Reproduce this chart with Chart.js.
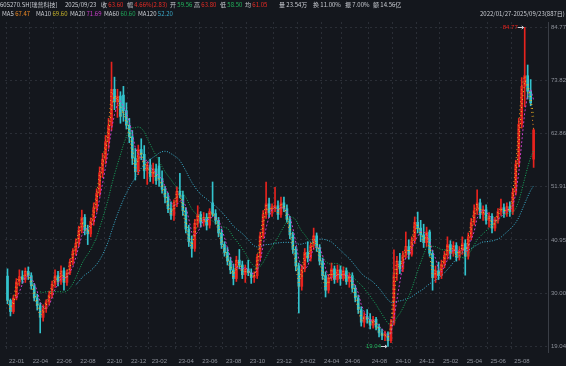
<!DOCTYPE html>
<html>
<head>
<meta charset="utf-8">
<script src="https://cdn.jsdelivr.net/npm/chart.js@4.4.1/dist/chart.umd.min.js"></script>
<style>
  body { margin: 0; background: #14171d; }
  #wrap { position: relative; width: 566px; height: 366px; overflow: hidden; }
  #kline { position: absolute; left: 0; top: 0; }
  .hd { position: absolute; font: 6px "Noto Sans CJK SC", "Liberation Sans", sans-serif; white-space: nowrap; color: #c9ccd2; line-height: 7px; }
  .r { color: #ec2b24; } .g { color: #22b45c; }
</style>
</head>
<body>
<div id="wrap">
  <canvas id="kline" width="566" height="366"></canvas>
  <!-- quote line -->
  <div class="hd" style="left:0;top:1px">605270.SH[瑞普科技]</div>
  <div class="hd" style="left:65px;top:1px">2025/09/23</div>
  <div class="hd" style="left:101px;top:1px">收 <span class="r">63.60</span></div>
  <div class="hd" style="left:127px;top:1px">幅 <span class="r">4.66%(2.83)</span></div>
  <div class="hd" style="left:170px;top:1px">开 <span class="g">59.56</span></div>
  <div class="hd" style="left:194px;top:1px">高 <span class="r">63.80</span></div>
  <div class="hd" style="left:220px;top:1px">低 <span class="g">58.50</span></div>
  <div class="hd" style="left:245px;top:1px">均 <span class="r">61.05</span></div>
  <div class="hd" style="left:279px;top:1px">量 23.54万</div>
  <div class="hd" style="left:313px;top:1px">换 11.00%</div>
  <div class="hd" style="left:345px;top:1px">振 7.00%</div>
  <div class="hd" style="left:373px;top:1px">额 14.56亿</div>
  <!-- MA legend line -->
  <div class="hd" style="left:2px;top:10px">MA5 <span style="color:#f08a24">67.47</span></div>
  <div class="hd" style="left:36px;top:10px">MA10 <span style="color:#c9b62a">69.60</span></div>
  <div class="hd" style="left:70px;top:10px">MA20 <span style="color:#cc3fcc">71.69</span></div>
  <div class="hd" style="left:104px;top:10px">MA60 <span style="color:#1fa85a">60.60</span></div>
  <div class="hd" style="left:138px;top:10px">MA120 <span style="color:#3aa8c8">52.20</span></div>
  <div class="hd" style="left:480px;top:10px">2022/01/27-2025/09/23(887日) ▼</div>
</div>
<script>
// one candle ~ one week (5 sessions), 2022/01/27 .. 2025/09/23
const opens = [
  33.5, 28.5, 26.2, 29.0, 32.3, 33.4, 32.8, 34.5, 33.6, 31.5,
  29.0, 27.4, 25.0, 26.8, 28.2, 29.6, 31.8, 33.6, 32.4, 34.6,
  32.2, 34.2, 36.4, 38.6, 40.3, 43.0, 45.6, 43.0, 42.2, 44.8,
  47.6, 50.6, 54.8, 57.6, 61.2, 64.5, 72.0, 69.4, 70.6, 70.8,
  67.6, 64.6, 62.2, 57.8, 55.0, 59.6, 58.6, 55.2, 56.4, 54.0,
  55.6, 56.2, 53.6, 51.4, 49.8, 47.4, 46.0, 48.6, 51.0, 50.2,
  47.0, 43.2, 40.6, 39.2, 44.4, 46.2, 44.6, 45.6, 44.0, 48.6,
  46.4, 45.0, 42.4, 40.0, 38.4, 36.6, 34.8, 33.0, 36.8, 35.8,
  33.8, 35.0, 34.2, 33.2, 33.6, 37.4, 41.8, 46.2, 48.4, 46.6,
  47.8, 48.0, 46.2, 48.6, 47.4, 45.2, 42.0, 39.0, 35.6, 31.4,
  35.0, 38.4, 37.2, 39.8, 41.8, 39.4, 36.6, 33.6, 30.6, 33.2,
  35.0, 32.8, 34.8, 33.0, 34.6, 32.4, 33.6, 31.0, 29.0, 26.6,
  24.0, 25.2, 24.6, 23.4, 24.6, 23.0, 21.8, 21.2, 21.6, 20.2,
  23.8, 33.8, 36.6, 35.0, 37.8, 39.6, 38.0, 40.8, 44.6, 43.4,
  42.0, 40.4, 42.6, 38.2, 33.2, 34.6, 33.6, 36.0, 37.8, 40.0,
  38.2, 39.8, 37.4, 38.8, 40.2, 37.6, 41.6, 44.6, 47.0, 48.6,
  46.2, 47.2, 45.0, 45.8, 43.4, 45.0, 46.8, 47.6, 46.4, 47.8,
  46.8, 50.8, 56.6, 64.8, 72.6, 74.8, 71.6, 57.6
];
const highs = [
  35.0, 28.8, 29.5, 33.0, 34.8, 34.6, 35.2, 35.4, 34.2, 32.0,
  29.8, 28.0, 27.6, 28.6, 30.4, 32.5, 34.8, 34.5, 35.6, 35.2,
  34.8, 37.0, 39.2, 41.2, 43.8, 47.1, 46.2, 44.0, 45.5, 48.6,
  51.5, 56.0, 58.8, 62.5, 66.0, 77.6, 74.5, 72.0, 71.5, 72.6,
  69.2, 66.0, 63.5, 59.8, 60.5, 61.8, 60.4, 57.0, 57.6, 56.8,
  56.6, 58.0, 55.2, 52.0, 50.6, 48.8, 49.2, 51.9, 54.7, 51.0,
  47.6, 44.0, 41.8, 45.2, 48.0, 46.8, 46.6, 46.4, 47.4, 52.9,
  47.2, 45.6, 43.2, 40.6, 39.4, 37.4, 36.0, 37.6, 39.0, 36.6,
  35.8, 36.8, 35.0, 34.4, 38.0, 42.6, 47.0, 52.9, 49.6, 48.4,
  51.8, 49.0, 49.8, 49.8, 48.2, 45.8, 42.6, 39.6, 36.2, 35.8,
  39.2, 40.6, 40.4, 43.4, 42.4, 40.0, 37.2, 34.4, 33.8, 36.2,
  35.6, 35.8, 35.6, 35.4, 35.2, 34.2, 34.2, 31.6, 29.6, 27.2,
  26.0, 26.6, 25.8, 25.2, 25.0, 23.6, 22.6, 22.2, 22.0, 24.6,
  38.9, 37.6, 38.2, 38.6, 42.6, 41.0, 41.6, 45.7, 46.7, 45.0,
  44.2, 43.6, 43.0, 38.8, 35.6, 36.4, 36.8, 38.6, 41.6, 40.8,
  40.6, 40.4, 39.6, 41.6, 41.0, 42.4, 45.4, 48.2, 51.3, 49.4,
  48.0, 48.2, 46.6, 46.4, 45.6, 47.4, 49.4, 48.4, 48.6, 48.8,
  51.6, 57.4, 66.0, 74.4, 84.77, 77.0, 74.0, 63.8
];
const lows = [
  27.8, 25.3, 25.8, 28.6, 31.5, 32.0, 32.2, 32.8, 30.8, 28.4,
  26.5, 21.8, 24.2, 26.0, 27.6, 29.0, 31.2, 31.5, 31.8, 30.6,
  31.6, 33.8, 35.8, 37.8, 39.6, 42.4, 42.0, 40.0, 41.6, 44.0,
  46.8, 50.0, 53.8, 56.6, 59.8, 63.5, 67.8, 66.2, 65.0, 65.4,
  63.8, 61.0, 56.5, 53.3, 54.4, 57.5, 53.6, 52.4, 53.0, 52.6,
  52.4, 52.0, 50.6, 48.6, 46.6, 45.2, 45.0, 47.8, 49.6, 46.0,
  42.4, 39.6, 37.4, 38.6, 43.6, 43.6, 43.8, 43.0, 43.4, 45.8,
  44.2, 41.6, 39.2, 37.6, 35.8, 34.0, 31.7, 32.4, 35.0, 33.0,
  32.2, 33.6, 32.0, 32.2, 33.0, 36.8, 41.2, 45.4, 45.6, 45.8,
  46.8, 45.2, 45.6, 46.8, 44.6, 41.2, 38.2, 34.6, 25.9, 30.6,
  34.4, 36.4, 36.6, 39.0, 38.6, 35.8, 32.8, 29.2, 30.0, 32.6,
  32.0, 32.2, 31.6, 32.6, 31.8, 31.2, 30.2, 28.2, 25.8, 23.2,
  23.0, 23.8, 22.6, 22.8, 22.4, 21.0, 20.4, 20.2, 19.04, 19.8,
  23.4, 32.6, 34.0, 34.4, 37.2, 37.0, 37.6, 40.2, 42.4, 40.6,
  39.4, 39.6, 37.6, 30.6, 32.2, 32.8, 33.0, 35.2, 37.0, 37.0,
  37.6, 36.6, 36.8, 38.0, 33.7, 37.0, 41.0, 44.0, 46.2, 45.4,
  45.0, 44.2, 43.6, 42.4, 42.8, 44.4, 46.0, 45.6, 45.8, 45.8,
  46.2, 50.2, 56.0, 64.0, 68.4, 70.0, 68.6, 55.9
];
const closes = [
  28.5, 26.2, 29.0, 32.3, 33.4, 32.8, 34.5, 33.6, 31.5, 29.0,
  27.4, 25.0, 26.8, 28.2, 29.6, 31.8, 33.6, 32.4, 34.6, 32.2,
  34.2, 36.4, 38.6, 40.3, 43.0, 45.6, 43.0, 42.2, 44.8, 47.6,
  50.6, 54.8, 57.6, 61.2, 64.5, 72.0, 69.4, 70.6, 66.4, 67.6,
  64.6, 62.2, 57.8, 55.0, 59.6, 58.6, 55.2, 56.4, 54.0, 55.6,
  53.2, 53.6, 51.4, 49.8, 47.4, 46.0, 48.6, 51.0, 50.2, 47.0,
  43.2, 40.6, 39.2, 44.4, 46.2, 44.6, 45.6, 44.0, 46.8, 46.4,
  45.0, 42.4, 40.0, 38.4, 36.6, 34.8, 33.0, 36.8, 35.8, 33.8,
  35.0, 34.2, 33.2, 33.6, 37.4, 41.8, 46.2, 48.4, 46.6, 47.8,
  48.0, 46.2, 48.6, 47.4, 45.2, 42.0, 39.0, 35.6, 31.4, 35.0,
  38.4, 37.2, 39.8, 41.8, 39.4, 36.6, 33.6, 30.6, 33.2, 35.0,
  32.8, 34.8, 33.0, 34.6, 32.4, 33.6, 31.0, 29.0, 26.6, 24.0,
  25.2, 24.6, 23.4, 24.6, 23.0, 21.8, 21.2, 21.6, 20.2, 23.8,
  33.8, 36.6, 35.0, 37.8, 39.6, 38.0, 40.8, 44.6, 43.4, 42.0,
  40.4, 42.6, 38.2, 33.2, 34.6, 33.6, 36.0, 37.8, 40.0, 38.2,
  39.8, 37.4, 38.8, 40.2, 37.6, 41.6, 44.6, 47.0, 48.6, 46.2,
  47.2, 45.0, 45.8, 43.4, 45.0, 46.8, 47.6, 46.4, 47.8, 46.8,
  50.8, 56.6, 64.8, 72.6, 74.8, 71.6, 69.2, 63.6
];

// candle index where each month label starts
const xTickIdx = [0, 8, 16, 24, 33, 41, 48, 57, 65, 73, 81, 90, 98, 106, 113, 122, 130, 138, 146, 154, 162, 170];
const xTickLabels = ['22-01', '22-04', '22-06', '22-08', '22-10', '22-12', '23-02', '23-04', '23-06', '23-08', '23-10',
  '23-12', '24-02', '24-04', '24-06', '24-08', '24-10', '24-12', '25-02', '25-04', '25-06', '25-08'];
const yTickVals = [19.04, 30.00, 40.95, 51.91, 62.86, 73.82, 84.77];

const maNames = ['MA5', 'MA10', 'MA20', 'MA60', 'MA120'];
const maSpans = [1, 2, 4, 12, 24]; // sessions / 5, since one candle ~ 5 sessions
const maColors = ['#f29322', '#e6d024', '#c83fc8', '#18ad60', '#3cb6d6'];

const UP = '#e8231e';
const DOWN = '#33c3cd';
const TXT = '#8d919a';
const GRID = '#2a2e36';

function movingAvg(src, n) {
  return src.map((_, i) => {
    if (i < n - 1) return { x: i, y: null };
    let s = 0;
    for (let k = i - n + 1; k <= i; k++) s += src[k];
    return { x: i, y: s / n };
  });
}

const idx = closes.map((_, i) => i);
const candleColor = idx.map(i => closes[i] >= opens[i] ? UP : DOWN);

const maSets = maSpans.map((n, k) => ({
  type: 'line',
  label: maNames[k],
  data: movingAvg(closes, n),
  borderColor: maColors[k],
  borderWidth: 1,
  borderDash: k < 2 ? [1, 3] : (k === 2 ? [2, 2] : [1, 1.5]),
  pointRadius: 0,
  tension: 0,
  order: 0
}));

// marks the highest high and lowest low with value + arrow
const extremeMarks = {
  id: 'extremeMarks',
  afterDatasetsDraw(chart) {
    const { ctx, scales: { x, y } } = chart;
    const hiI = highs.indexOf(Math.max(...highs));
    const loI = lows.indexOf(Math.min(...lows));
    ctx.save();
    ctx.font = '6px "Liberation Sans", Arial, sans-serif';
    ctx.textBaseline = 'middle';
    ctx.textAlign = 'right';
    const mark = (i, v, col) => {
      const px = x.getPixelForValue(i);
      const py = Math.round(y.getPixelForValue(v)) + 0.5;
      ctx.strokeStyle = '#cfd2d8';
      ctx.lineWidth = 1;
      ctx.beginPath();
      ctx.moveTo(px - 7, py); ctx.lineTo(px - 1, py);
      ctx.moveTo(px - 1, py); ctx.lineTo(px - 3, py - 1.5);
      ctx.moveTo(px - 1, py); ctx.lineTo(px - 3, py + 1.5);
      ctx.stroke();
      ctx.fillStyle = col;
      ctx.fillText(v.toFixed(2), px - 7, py);
    };
    mark(hiI, highs[hiI], '#e8231e');
    mark(loI, lows[loI], '#22b45c');
    ctx.restore();
  }
};

new Chart(document.getElementById('kline'), {
  type: 'bar',
  data: {
    datasets: [
      ...maSets,
      {
        label: 'body',
        data: idx.map(i => ({ x: i, y: [Math.min(opens[i], closes[i]), Math.max(opens[i], closes[i])] })),
        backgroundColor: candleColor,
        barThickness: 2,
        minBarLength: 1,
        grouped: false,
        order: 1
      },
      {
        label: 'wick',
        data: idx.map(i => ({ x: i, y: [lows[i], highs[i]] })),
        backgroundColor: candleColor,
        barThickness: 1,
        grouped: false,
        order: 2
      }
    ]
  },
  options: {
    responsive: false,
    animation: false,
    layout: { padding: { top: 22, left: 0, right: 0, bottom: 0 } },
    plugins: { legend: { display: false }, tooltip: { enabled: false } },
    scales: {
      x: {
        type: 'linear',
        min: -0.8333,
        max: 181.8333,
        bounds: 'data',
        offset: false,
        afterBuildTicks: s => { s.ticks = xTickIdx.map(i => ({ value: i - 0.5 })); },
        afterFit: s => { s.height = 14; },
        ticks: {
          autoSkip: false,
          maxRotation: 0,
          align: 'start',
          labelOffset: 3,
          padding: 6,
          color: TXT,
          font: { size: 6, family: '"Liberation Sans", Arial, sans-serif' },
          callback: (v, k) => xTickLabels[k]
        },
        grid: { color: GRID, drawTicks: false, offset: false },
        border: { display: false, dash: [2, 3] }
      },
      y: {
        position: 'right',
        min: 17.87,
        max: 85.86,
        bounds: 'data',
        afterBuildTicks: s => { s.ticks = yTickVals.map(v => ({ value: v })); },
        afterFit: s => { s.width = 18; },
        ticks: {
          color: TXT,
          padding: 3,
          crossAlign: 'near',
          font: { size: 6, family: '"Liberation Sans", Arial, sans-serif' },
          callback: v => v.toFixed(2)
        },
        grid: { color: GRID, drawTicks: false },
        border: { display: true, color: '#3a3e46', dash: [2, 3] }
      }
    }
  },
  plugins: [extremeMarks]
});
</script>
</body>
</html>
